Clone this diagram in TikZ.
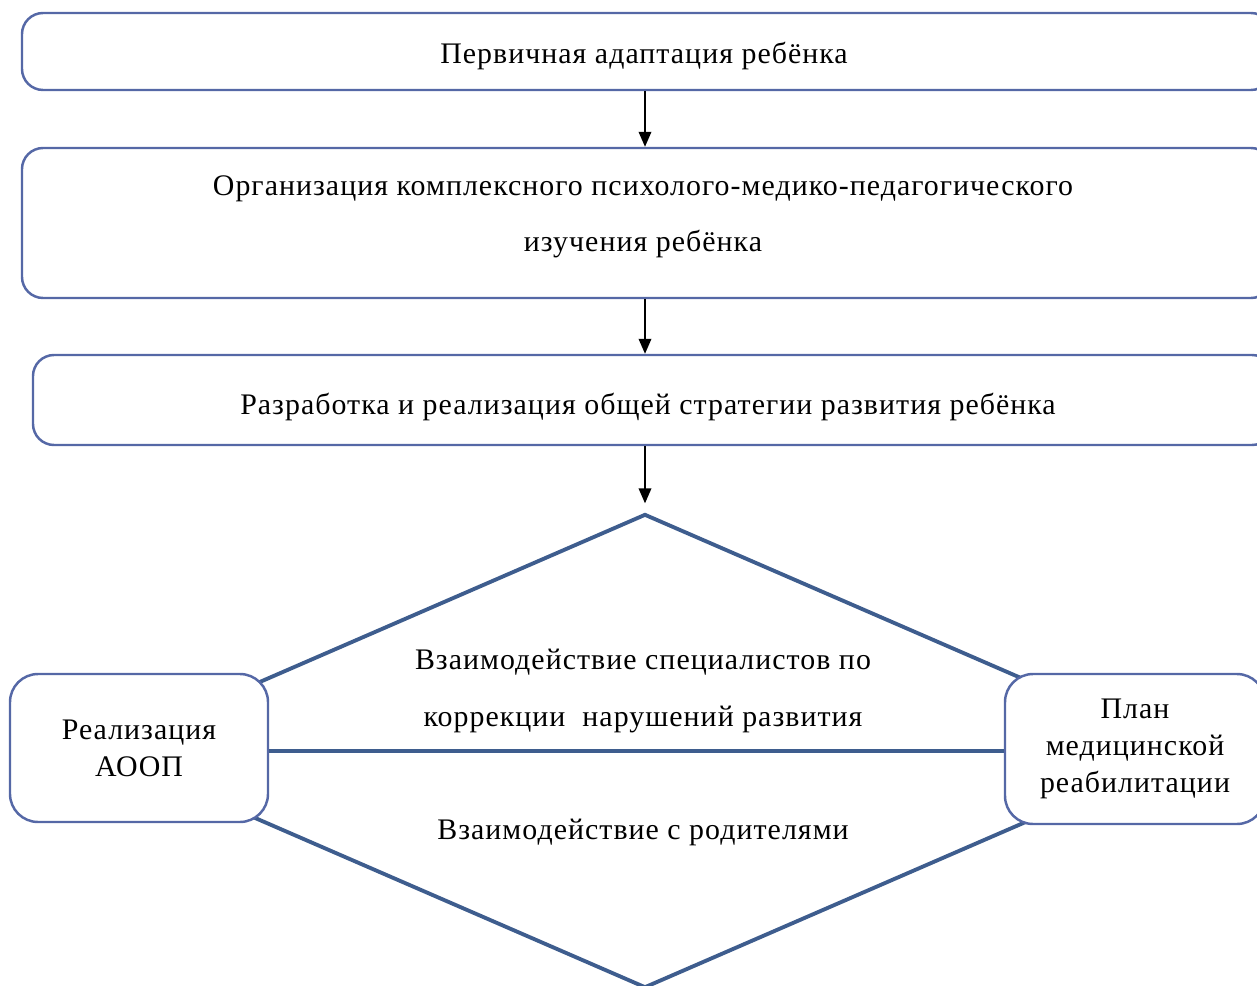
\documentclass[tikz,border=0pt]{standalone}
\usepackage{fontspec}
\setmainfont{Liberation Serif}[LetterSpace=3.5]
\usetikzlibrary{arrows.meta,positioning,shapes.geometric}

\definecolor{boxline}{HTML}{5568A6}
\definecolor{diaLine}{HTML}{3E5D8E}

\tikzset{
  stage/.style={draw=boxline,line width=1.4pt,rounded corners=12pt,fill=white,
    align=center,font=\fontsize{17}{34}\selectfont,inner sep=0pt},
  side/.style={draw=boxline,line width=1.4pt,rounded corners=16pt,fill=white,
    align=center,font=\fontsize{17}{21}\selectfont,inner sep=0pt},
  lbl/.style={font=\fontsize{17}{32}\selectfont,align=center,inner sep=0pt},
  flow/.style={-{Triangle[length=8.5pt,width=7.2pt]},line width=0.8pt}
}

\begin{document}
\begin{tikzpicture}[x=0.02cm,y=-0.02cm]
\useasboundingbox (0,0) rectangle (1257,986);
% boxes of the upper chain
\node[stage,minimum width=1250*0.02cm,minimum height=77*0.02cm] (adapt) at (647,51.5) {};
\node[lbl] at (644,56) {Первичная адаптация ребёнка};
\node[stage,minimum width=1250*0.02cm,minimum height=150*0.02cm] (study) at (647,223) {};
\node[lbl] at (643,217) {Организация комплексного психолого-медико-педагогического\\изучения ребёнка};
\node[stage,minimum width=1240*0.02cm,minimum height=90*0.02cm] (strat) at (653,400) {};
\node[lbl] at (648,407) {Разработка и реализация общей стратегии развития ребёнка};

% diamond
\node[draw=diaLine,line width=2.2pt,shape=diamond,inner sep=0pt,
  minimum width=1090*0.02cm,minimum height=474*0.02cm,fill=white] (dia) at (645,751) {};
\node[lbl] at (643,691) {Взаимодействие специалистов по\\коррекции \ нарушений развития};
\node[lbl] at (643,832) {Взаимодействие с родителями};

% side boxes
\node[side,minimum width=258*0.02cm,minimum height=148*0.02cm] (aoop) at (139,748) {Реализация\\АООП};
\node[side,minimum width=260*0.02cm,minimum height=150*0.02cm] (plan) at (1135,749) {План\\медицинской\\реабилитации};
\draw[draw=diaLine,line width=2.2pt] (dia.center -| aoop.east) -- (dia.center -| plan.west);

% arrows
\draw[flow] (adapt.south -| dia.north) -- (study.north -| dia.north);
\draw[flow] (study.south -| dia.north) -- (strat.north -| dia.north);
\draw[flow] (strat.south -| dia.north) -- ([yshift=5pt]dia.north);
\end{tikzpicture}
\end{document}
